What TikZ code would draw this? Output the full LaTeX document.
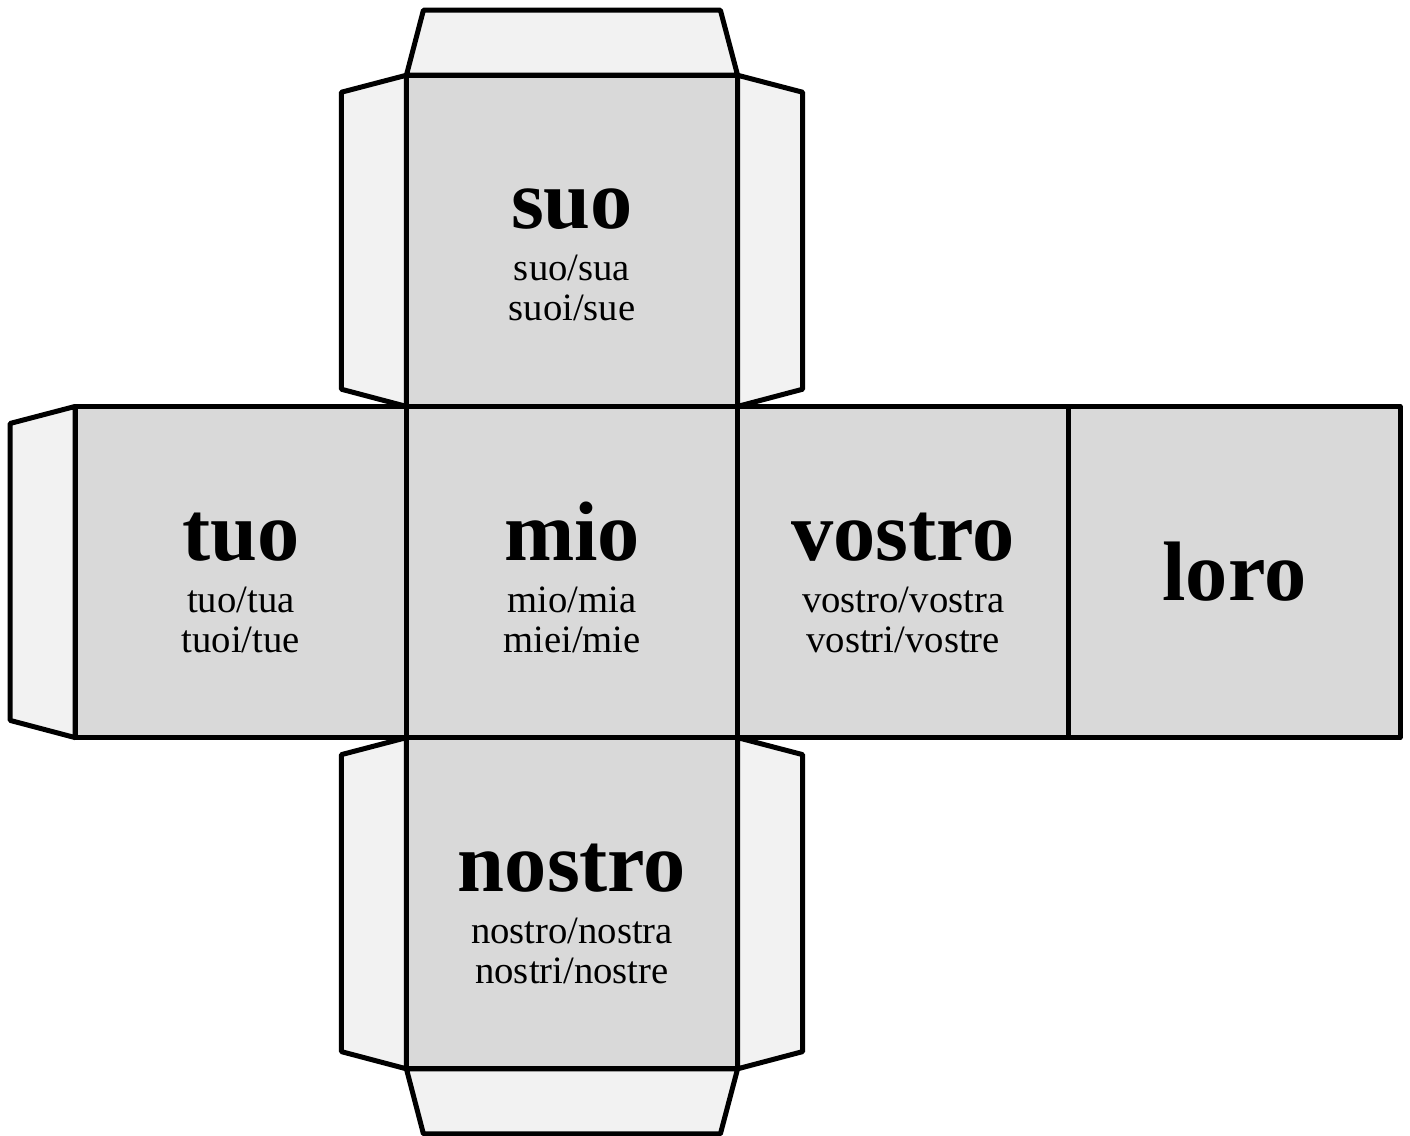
\documentclass[tikz,border=0pt]{standalone}
\usepackage{fontspec}
\setmainfont{Liberation Serif}
\usepackage{tikz}
\usetikzlibrary{positioning}

\definecolor{facegray}{HTML}{D9D9D9}
\definecolor{flapgray}{HTML}{F2F2F2}

% one face of the cube: big word and its two lines of forms
\newcommand{\facetext}[4]{%
	\node[bigword]		(#1-w)	at ([yshift=0.12cm]#1.center)		{#2};
	\node[smallword]	(#1-a)	at ([yshift=-0.40cm]#1.center)		{#3};
	\node[smallword]	(#1-b)	at ([yshift=-0.80cm]#1.center)		{#4};
}

\begin{document}
\begin{tikzpicture}[x=0.01cm,y=-0.01cm,line width=0.05cm,line join=round,
	face/.style={rectangle,minimum size=3.31cm,inner sep=0pt,outer sep=0pt},
	flap/.style={draw=black,fill=flapgray},
	bigword/.style={anchor=base,inner sep=0pt,font=\fontsize{24}{28}\selectfont\bfseries},
	smallword/.style={anchor=base,inner sep=0pt,font=\fontsize{11}{13}\selectfont}]
	\useasboundingbox (0,0) rectangle (1410,1135);

	% faces (placed only)
	\node[face]		(mio)									at (572,572)	{};
	\node[face]		(suo)		[above=0pt of mio]					{};
	\node[face]		(nostro)	[below=0pt of mio]					{};
	\node[face]		(tuo)		[left=0pt of mio]					{};
	\node[face]		(vostro)	[right=0pt of mio]					{};
	\node[face]		(loro)		[right=0pt of vostro]				{};

	% flaps
	\draw[flap] (suo.north west) -- ++(17,-65) -- ++(297,0) -- (suo.north east) -- cycle;
	\draw[flap] (suo.north west) -- ++(-65,17) -- ++(0,297) -- (suo.south west) -- cycle;
	\draw[flap] (suo.north east) -- ++(65,17) -- ++(0,297) -- (suo.south east) -- cycle;
	\draw[flap] (tuo.north west) -- ++(-65,17) -- ++(0,297) -- (tuo.south west) -- cycle;
	\draw[flap] (nostro.north west) -- ++(-65,17) -- ++(0,297) -- (nostro.south west) -- cycle;
	\draw[flap] (nostro.north east) -- ++(65,17) -- ++(0,297) -- (nostro.south east) -- cycle;
	\draw[flap] (nostro.south west) -- ++(17,65) -- ++(297,0) -- (nostro.south east) -- cycle;

	% faces on top of the flaps
	\foreach \f in {suo,nostro,tuo,mio,vostro,loro}
		\draw[fill=facegray] (\f.north west) rectangle (\f.south east);

	% texts
	\facetext{suo}{suo}{suo/sua}{suoi/sue}
	\facetext{tuo}{tuo}{tuo/tua}{tuoi/tue}
	\facetext{mio}{mio}{mio/mia}{miei/mie}
	\facetext{vostro}{vostro}{vostro/vostra}{vostri/vostre}
	\facetext{nostro}{nostro}{nostro/nostra}{nostri/nostre}
	\node[bigword,anchor=center]	(loro-w)	at (loro.center)	{loro};
\end{tikzpicture}
\end{document}
